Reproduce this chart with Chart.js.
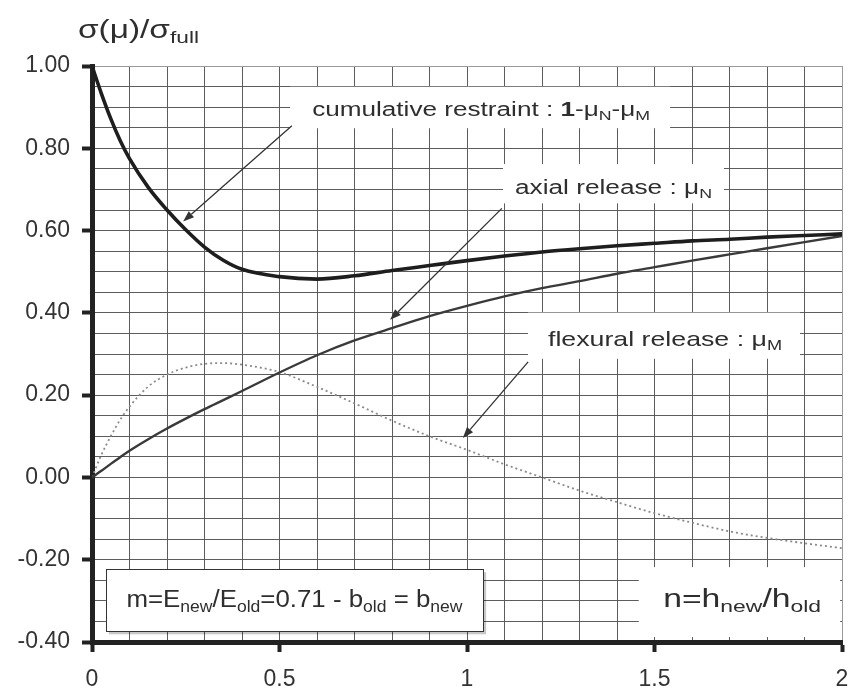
<!DOCTYPE html>
<html><head><meta charset="utf-8">
<script src="https://cdn.jsdelivr.net/npm/chart.js@4.4.1/dist/chart.umd.min.js"></script>
<style>html,body{margin:0;padding:0;background:#fff;}#wrap{width:851px;height:691px;}</style>
</head><body><div id="wrap"><canvas id="c" width="851" height="691"></canvas></div>
<script>
// ---- data ----
const nValues   = [0, 0.025, 0.05, 0.075, 0.1, 0.15, 0.2, 0.25, 0.3, 0.35, 0.4, 0.5, 0.6, 0.7, 0.8, 0.9, 1.0, 1.1, 1.2, 1.3, 1.4, 1.5, 1.6, 1.7, 1.8, 1.9, 2.0];
const cumulative= [1.00, 0.933, 0.872, 0.819, 0.775, 0.705, 0.650, 0.602, 0.560, 0.528, 0.506, 0.488, 0.482, 0.490, 0.503, 0.515, 0.527, 0.538, 0.548, 0.556, 0.563, 0.569, 0.575, 0.579, 0.584, 0.588, 0.592];
const axial     = [0, 0.016, 0.033, 0.049, 0.065, 0.093, 0.119, 0.143, 0.166, 0.188, 0.210, 0.255, 0.297, 0.333, 0.363, 0.392, 0.417, 0.440, 0.460, 0.477, 0.495, 0.511, 0.527, 0.542, 0.557, 0.572, 0.587];
const flexural  = [0, 0.055, 0.100, 0.140, 0.172, 0.221, 0.250, 0.267, 0.276, 0.278, 0.274, 0.256, 0.220, 0.180, 0.138, 0.100, 0.067, 0.032, 0.000, -0.032, -0.060, -0.087, -0.110, -0.131, -0.147, -0.160, -0.172];
const xTickValues = [0, 0.5, 1, 1.5, 2];
const xTickLabels = ['0', '0.5', '1', '1.5', '2'];
const yTickValues = [1.0, 0.8, 0.6, 0.4, 0.2, 0.0, -0.2, -0.4];
const yTickLabels = ['1.00', '0.80', '0.60', '0.40', '0.20', '0.00', '-0.20', '-0.40'];

// text labels (segments: t = text, b = bold, s = subscript)
const titleText = [{t:'σ(μ)/σ'}, {t:'full', s:1}];
const cumText   = [{t:'cumulative restraint : '}, {t:'1', b:1}, {t:'-μ'}, {t:'N', s:1}, {t:'-μ'}, {t:'M', s:1}];
const axText    = [{t:'axial release : μ'}, {t:'N', s:1}];
const flexText  = [{t:'flexural release : μ'}, {t:'M', s:1}];
const mText     = [{t:'m=E'}, {t:'new', s:1}, {t:'/E'}, {t:'old', s:1}, {t:'=0.71 - b'}, {t:'old', s:1}, {t:' = b'}, {t:'new', s:1}];
const nText     = [{t:'n=h'}, {t:'new', s:1}, {t:'/h'}, {t:'old', s:1}];

const FONT = '"Liberation Sans", Arial, Helvetica, sans-serif';
const near = (a, b) => Math.abs(a - b) < 1e-6;

function richWidth(ctx, segs, size) {
  let w = 0;
  for (const s of segs) {
    ctx.font = (s.b ? 'bold ' : '') + (s.s ? size * 0.68 : size) + 'px ' + FONT;
    w += ctx.measureText(s.t).width;
  }
  return w;
}
// draws rich text with left at x, baseline at y, stretched to target width
function drawRich(ctx, segs, x, y, size, targetW) {
  const nat = richWidth(ctx, segs, size);
  const sx = targetW ? targetW / nat : 1;
  ctx.save();
  ctx.translate(x, y);
  ctx.scale(sx, 1);
  ctx.fillStyle = '#2e2e2e';
  ctx.textBaseline = 'alphabetic';
  ctx.textAlign = 'left';
  let cx = 0;
  for (const s of segs) {
    const fs = s.s ? size * 0.68 : size;
    ctx.font = (s.b ? 'bold ' : '') + fs + 'px ' + FONT;
    ctx.fillText(s.t, cx, s.s ? size * 0.2 : 0);
    cx += ctx.measureText(s.t).width;
  }
  ctx.restore();
  return nat * sx;
}
function arrow(ctx, x1, y1, x2, y2) {
  ctx.save();
  ctx.strokeStyle = '#333'; ctx.fillStyle = '#333'; ctx.lineWidth = 1.3;
  const a = Math.atan2(y2 - y1, x2 - x1);
  const L = 11, W = 4;
  const bx = x2 - L * Math.cos(a), by = y2 - L * Math.sin(a);
  ctx.beginPath(); ctx.moveTo(x1, y1); ctx.lineTo(bx, by); ctx.stroke();
  ctx.beginPath();
  ctx.moveTo(x2, y2);
  ctx.lineTo(bx + W * Math.sin(a), by - W * Math.cos(a));
  ctx.lineTo(bx - W * Math.sin(a), by + W * Math.cos(a));
  ctx.closePath(); ctx.fill();
  ctx.restore();
}

// annotation layout (data coordinates: x = n, y = value at text baseline)
const notes = [
  {segs: cumText,  n: 0.587, v: 0.878, size: 20, w: 338, pad: [22, 15, 20, 12]},
  {segs: axText,   n: 1.128, v: 0.688, size: 20, w: 197, pad: [12, 16, 12, 9]},
  {segs: flexText, n: 1.216, v: 0.320, size: 21, w: 234, pad: [20, 18, 18, 13]}
];
const arrows = [
  [0.533, 0.855, 0.243, 0.622],
  [1.093, 0.654, 0.795, 0.383],
  [1.163, 0.281, 0.989, 0.096]
];

const annotPlugin = {
  id: 'annot',
  beforeDatasetsDraw(chart) {
    const ctx = chart.ctx, xs = chart.scales.x, ys = chart.scales.y;
    ctx.save();
    ctx.fillStyle = '#fff';
    for (const a of notes) {
      const x = xs.getPixelForValue(a.n), y = ys.getPixelForValue(a.v);
      ctx.fillRect(x - a.pad[0], y - a.size * 0.72 - a.pad[1], a.w + a.pad[0] + a.pad[2], a.size * 0.72 + a.pad[1] + a.pad[3]);
    }
    // n= label area
    const nx = xs.getPixelForValue(1.458), ny = ys.getPixelForValue(-0.218);
    ctx.fillRect(nx, ny, xs.getPixelForValue(1.995) - nx, ys.getPixelForValue(-0.388) - ny);
    // legend box
    const lx1 = xs.getPixelForValue(0.037), ly1 = ys.getPixelForValue(-0.223);
    const lx2 = xs.getPixelForValue(1.043), ly2 = ys.getPixelForValue(-0.374);
    ctx.fillStyle = 'rgba(0,0,0,0.22)';
    ctx.fillRect(lx1 + 3, ly1 + 3, lx2 - lx1, ly2 - ly1);
    ctx.fillStyle = '#fff';
    ctx.fillRect(lx1, ly1, lx2 - lx1, ly2 - ly1);
    ctx.strokeStyle = '#333'; ctx.lineWidth = 1;
    ctx.strokeRect(Math.round(lx1) + 0.5, Math.round(ly1) + 0.5, Math.round(lx2 - lx1), Math.round(ly2 - ly1));
    ctx.restore();
  },
  afterDatasetsDraw(chart) {
    const ctx = chart.ctx, xs = chart.scales.x, ys = chart.scales.y;
    for (const a of notes) {
      drawRich(ctx, a.segs, xs.getPixelForValue(a.n), ys.getPixelForValue(a.v), a.size, a.w);
    }
    for (const r of arrows) {
      arrow(ctx, xs.getPixelForValue(r[0]), ys.getPixelForValue(r[1]), xs.getPixelForValue(r[2]), ys.getPixelForValue(r[3]));
    }
    drawRich(ctx, mText, xs.getPixelForValue(0.092), ys.getPixelForValue(-0.315), 23, 336);
    drawRich(ctx, nText, xs.getPixelForValue(1.523), ys.getPixelForValue(-0.315), 25, 158);
    // axis title (top left)
    drawRich(ctx, titleText, 78, 38, 25, 121);
  }
};

const xLabel = v => { const i = xTickValues.findIndex(t => near(t, v)); return i < 0 ? '' : xTickLabels[i]; };
const yLabel = v => { const i = yTickValues.findIndex(t => near(t, v)); return i < 0 ? '' : yTickLabels[i]; };
const toPts = arr => nValues.map((n, i) => ({x: n, y: arr[i]}));

new Chart(document.getElementById('c'), {
  type: 'line',
  data: {
    datasets: [
      {label: 'cumulative restraint', data: toPts(cumulative), borderColor: '#1e1e1e', borderWidth: 3.6, pointRadius: 0, cubicInterpolationMode: 'monotone', fill: false, order: 0},
      {label: 'axial release', data: toPts(axial), borderColor: '#3a3a3a', borderWidth: 2.4, pointRadius: 0, cubicInterpolationMode: 'monotone', fill: false, order: 1},
      {label: 'flexural release', data: toPts(flexural), borderColor: '#8a8a8a', borderWidth: 1.8, borderDash: [2, 3], pointRadius: 0, cubicInterpolationMode: 'monotone', fill: false, order: 2}
    ]
  },
  options: {
    responsive: false, animation: false, devicePixelRatio: 1,
    layout: {padding: {top: 66, right: 9, left: 0, bottom: 0}},
    plugins: {legend: {display: false}, tooltip: {enabled: false}},
    scales: {
      x: {
        type: 'linear', min: 0, max: 2,
        afterFit(s) { s.height = 49; s.paddingLeft = 0; s.paddingRight = 0; },
        ticks: {stepSize: 0.1, autoSkip: false, maxRotation: 0, padding: 14, color: '#333', font: {family: FONT, size: 23}, callback: v => xLabel(v)},
        grid: {
          color: c => (c.tick && near(c.tick.value, 2)) ? '#9a9a9a' : '#5c5c5c',
          lineWidth: 1, tickLength: 10,
          tickColor: c => (c.tick && xLabel(c.tick.value) !== '') ? '#222' : 'rgba(0,0,0,0)',
          tickWidth: 4
        },
        border: {display: true, color: '#222', width: 5}
      },
      y: {
        type: 'linear', min: -0.4, max: 1.0,
        afterFit(s) { s.width = 92; s.paddingTop = 0; s.paddingBottom = 0; },
        ticks: {stepSize: 0.05, autoSkip: false, padding: 12, color: '#333', font: {family: FONT, size: 23}, callback: v => yLabel(v)},
        grid: {
          color: c => (c.tick && near(c.tick.value, 1)) ? '#9a9a9a' : '#5c5c5c',
          lineWidth: 1, tickLength: 10,
          tickColor: c => (c.tick && yLabel(c.tick.value) !== '') ? '#222' : 'rgba(0,0,0,0)',
          tickWidth: 4
        },
        border: {display: true, color: '#222', width: 5}
      }
    }
  },
  plugins: [annotPlugin]
});
</script>
</body></html>
